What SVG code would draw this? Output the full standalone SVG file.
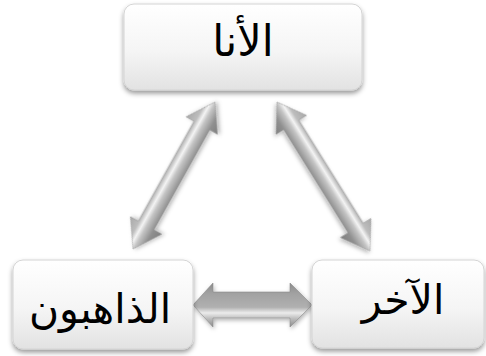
<svg xmlns="http://www.w3.org/2000/svg" width="486" height="356" viewBox="0 0 486 356">
  <defs>
    <linearGradient id="boxFill" x1="0" y1="0" x2="0" y2="1">
      <stop offset="0" stop-color="#ffffff"/>
      <stop offset="0.55" stop-color="#f5f5f5"/>
      <stop offset="1" stop-color="#e2e2e2"/>
    </linearGradient>
    <linearGradient id="arrowFill" x1="0" y1="0" x2="0" y2="1">
      <stop offset="0" stop-color="#a8a8a8"/>
      <stop offset="0.28" stop-color="#bdbdbd"/>
      <stop offset="0.4" stop-color="#f4f4f4"/>
      <stop offset="0.52" stop-color="#c4c4c4"/>
      <stop offset="0.75" stop-color="#8f8f8f"/>
      <stop offset="1" stop-color="#7e7e7e"/>
    </linearGradient>
    <linearGradient id="hArrowFill" x1="0" y1="0" x2="0" y2="1">
      <stop offset="0" stop-color="#8c8c8c"/>
      <stop offset="0.25" stop-color="#a2a2a2"/>
      <stop offset="0.55" stop-color="#b0b0b0"/>
      <stop offset="0.68" stop-color="#ececec"/>
      <stop offset="0.8" stop-color="#c0c0c0"/>
      <stop offset="1" stop-color="#8a8a8a"/>
    </linearGradient>
    <filter id="shadow" x="-20%" y="-20%" width="140%" height="150%">
      <feDropShadow dx="0" dy="3" stdDeviation="2.5" flood-color="#000" flood-opacity="0.4"/>
    </filter>
    <filter id="ashadow" x="-20%" y="-20%" width="140%" height="140%">
      <feDropShadow dx="1" dy="2" stdDeviation="2" flood-color="#000" flood-opacity="0.3"/>
    </filter>
  </defs>
  <style>
    .box { fill: url(#boxFill); stroke: #d4d4d4; stroke-width: 1; filter: url(#shadow); }
    .lbl { font-family: "Liberation Sans", "DejaVu Sans", Arial, sans-serif; font-size: 41px; fill: #000; text-anchor: middle; }
    .arr { fill: url(#arrowFill); stroke: #9a9a9a; stroke-width: 0.6; filter: url(#ashadow); }
    .harr { fill: url(#hArrowFill); stroke: #8a8a8a; stroke-width: 0.6; filter: url(#ashadow); }
  </style>
  <rect width="486" height="356" fill="#ffffff"/>

  <g id="connectors">
    <polygon class="arr" transform="translate(133,249) rotate(-60.85)"
      points="0,0 27,-18 27,-9 141.3,-9 141.3,-18 168.3,0 141.3,18 141.3,9 27,9 27,18"/>
    <polygon class="arr" transform="translate(277,102) rotate(58.03)"
      points="0,0 27,-18 27,-9 148.6,-9 148.6,-18 175.6,0 148.6,18 148.6,9 27,9 27,18"/>
    <polygon class="harr"
      points="193,305 213,283 213,292 290,292 290,283 312,305 290,327 290,318 213,318 213,327"/>
  </g>

  <g id="node-ana">
    <rect class="box" x="124" y="4" width="238" height="86" rx="10" ry="10"/>
    <text class="lbl" x="243" y="56" direction="rtl" style="font-size:43px">الأنا</text>
  </g>
  <g id="node-dhahibun">
    <rect class="box" x="13" y="260" width="180" height="89" rx="10" ry="10"/>
    <text class="lbl" x="100" y="323" direction="rtl">الذاهبون</text>
  </g>
  <g id="node-akhar">
    <rect class="box" x="312" y="260" width="172" height="88" rx="10" ry="10"/>
    <text class="lbl" x="403" y="314" direction="rtl">الآخر</text>
  </g>
</svg>
